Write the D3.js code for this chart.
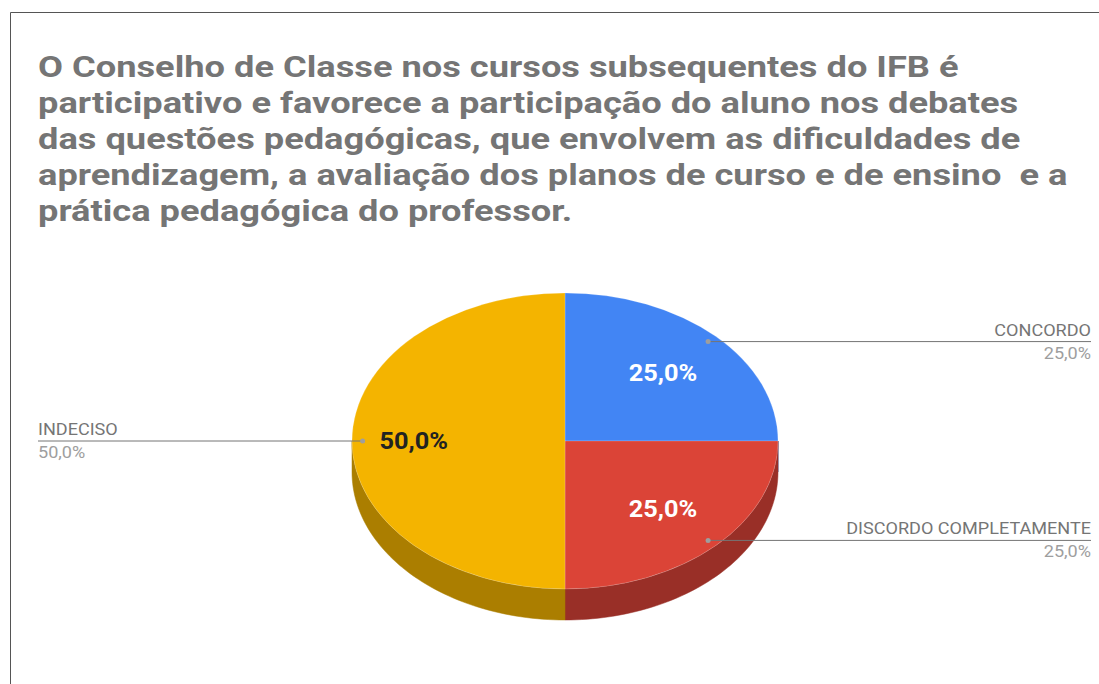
<!DOCTYPE html>
<html lang="pt">
<head>
  <meta charset="UTF-8">
  <title>Conselho de Classe</title>
  <script src="https://d3js.org/d3.v7.min.js"></script>
  <style>
    body { margin: 0; background: #fff; }
    svg { display: block; font-family: Roboto, "Noto Sans", sans-serif; }
  </style>
</head>
<body>
  <div id="chart"></div>

  <script>
    // data
    const categories = ["CONCORDO", "DISCORDO COMPLETAMENTE", "INDECISO"];
    const values = [25, 25, 50];
    const colors = ["#4285f4", "#db4437", "#f4b400"];
    const sideColors = ["#2d5daa", "#992f27", "#ab7e00"];
    const titleLines = [
      "O Conselho de Classe nos cursos subsequentes do IFB é",
      "participativo e favorece a participação do aluno nos debates",
      "das questões pedagógicas, que envolvem as dificuldades de",
      "aprendizagem, a avaliação dos planos de curso e de ensino  e a",
      "prática pedagógica do professor."
    ];

    const width = 1099, height = 684;
    const cx = 565, cy = 441, rx = 213, ry = 148, depth = 31;
    // the picture is a bit stretched sideways, so the text is too
    const titleStretch = 1.25, labelStretch = 1.13, pctStretch = 1.1;

    const svg = d3.select("#chart").append("svg")
      .attr("width", width)
      .attr("height", height);

    // frame
    svg.append("path")
      .attr("d", `M10.5,${height} V12.5 H${width}`)
      .attr("fill", "none")
      .attr("stroke", "#555")
      .attr("stroke-width", 1);

    // title
    svg.append("g")
      .attr("transform", `translate(38,77) scale(${titleStretch},1)`)
      .append("text")
      .attr("fill", "#757575")
      .attr("font-size", 29)
      .attr("font-weight", "bold")
      .style("white-space", "pre")
      .selectAll("tspan")
      .data(titleLines)
      .join("tspan")
        .attr("x", 0)
        .attr("dy", (d, i) => i === 0 ? 0 : 36)
        .text(d => d);

    const data = categories.map((c, i) => ({name: c, value: values[i], color: colors[i], side: sideColors[i]}));
    const arcs = d3.pie().sort(null).value(d => d.value)(data);

    const pt = (a, f = 1) => [cx + rx * f * Math.sin(a), cy - ry * f * Math.cos(a)];

    // sides (front half only: angles PI/2 .. 3PI/2)
    const sides = svg.append("g");
    arcs.forEach(a => {
      const a0 = Math.max(a.startAngle, Math.PI / 2);
      const a1 = Math.min(a.endAngle, 3 * Math.PI / 2);
      if (a1 <= a0) return;
      const steps = d3.range(0, 61).map(k => a0 + (a1 - a0) * k / 60);
      const top = steps.map(t => pt(t));
      const bottom = steps.slice().reverse().map(t => { const p = pt(t); return [p[0], p[1] + depth]; });
      sides.append("path")
        .attr("d", d3.line()(top.concat(bottom)) + "Z")
        .attr("fill", a.data.side)
        .attr("stroke", a.data.side)
        .attr("stroke-width", 0.5);
    });

    // top face, drawn as circle arcs squashed into an ellipse
    const arcGen = d3.arc().innerRadius(0).outerRadius(rx);
    svg.append("g")
      .attr("transform", `translate(${cx},${cy}) scale(1,${ry / rx})`)
      .selectAll("path")
      .data(arcs)
      .join("path")
        .attr("d", arcGen)
        .attr("fill", d => d.data.color)
        .attr("stroke", "#fff")
        .attr("stroke-opacity", 0.35)
        .attr("stroke-width", 0.6);

    // inner percentage labels
    const fmt = v => d3.format(".1f")(v).replace(".", ",") + "%";
    const total = d3.sum(values);
    const labelPos = d => pt((d.startAngle + d.endAngle) / 2, d.data.value / total >= 0.5 ? 0.71 : 0.65);
    svg.append("g")
      .selectAll("text")
      .data(arcs)
      .join("text")
        .attr("transform", d => `translate(${labelPos(d)[0]},${labelPos(d)[1]}) scale(${pctStretch},1)`)
        .attr("dy", "0.36em")
        .attr("text-anchor", "middle")
        .attr("font-size", 23)
        .attr("font-weight", "bold")
        .attr("fill", d => d.data.name === "INDECISO" ? "#222" : "#fff")
        .text(d => fmt(d.data.value / total * 100));

    // outside labels with leader lines
    const leaders = svg.append("g");
    arcs.forEach(a => {
      const mid = (a.startAngle + a.endAngle) / 2;
      const p = pt(mid, 0.95);
      const right = Math.sin(mid) > 0;
      const xEnd = right ? 1091 : 38;
      leaders.append("line")
        .attr("x1", p[0]).attr("y1", p[1])
        .attr("x2", xEnd).attr("y2", p[1])
        .attr("stroke", "#757575")
        .attr("stroke-width", 1);
      leaders.append("circle")
        .attr("cx", p[0]).attr("cy", p[1])
        .attr("r", 2.5)
        .attr("fill", "#9e9e9e");
      leaders.append("text")
        .attr("transform", `translate(${xEnd},${p[1] - 6}) scale(${labelStretch},1)`)
        .attr("text-anchor", right ? "end" : "start")
        .attr("font-size", 16)
        .attr("fill", "#757575")
        .text(a.data.name);
      leaders.append("text")
        .attr("transform", `translate(${xEnd},${p[1] + 17}) scale(${labelStretch},1)`)
        .attr("text-anchor", right ? "end" : "start")
        .attr("font-size", 16)
        .attr("fill", "#9e9e9e")
        .text(fmt(a.data.value / total * 100));
    });
  </script>
</body>
</html>
